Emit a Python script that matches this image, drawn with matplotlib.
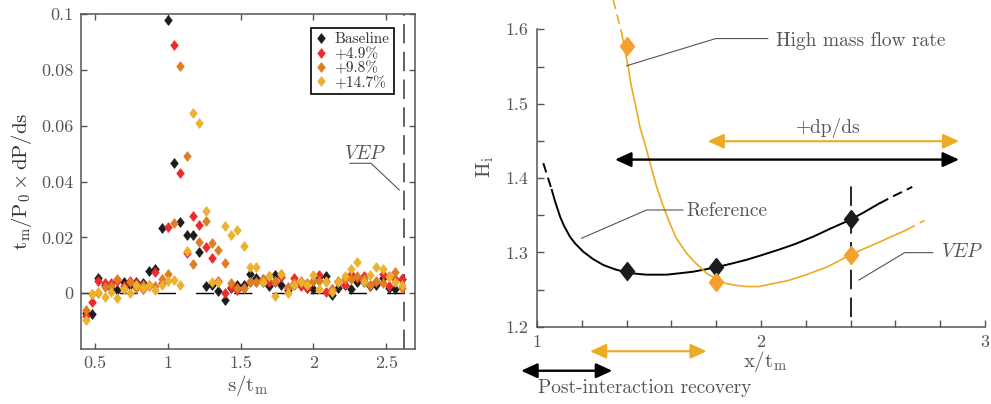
import numpy as np
import matplotlib
matplotlib.use("Agg")
import matplotlib.pyplot as plt
from matplotlib.patches import FancyArrowPatch
from matplotlib.ticker import FixedLocator, FuncFormatter, MultipleLocator

plt.rcParams['font.family'] = 'serif'
plt.rcParams['font.serif'] = ['cmr10']
plt.rcParams['mathtext.fontset'] = 'cm'
plt.rcParams['axes.formatter.use_mathtext'] = True
plt.rcParams['lines.scale_dashes'] = False

GREY = '#555555'
C_BASE = '#1c1c1c'
C_49 = '#ee2b2b'
C_98 = '#dc7f22'
C_147 = '#edb130'
C_ORANGE = '#f5a02c'
C_CURVE = '#edaa24'

# ---- left panel: pressure gradient along s ----
s_pos = [0.435, 0.478, 0.522, 0.565, 0.609, 0.652, 0.695, 0.739, 0.782, 0.826,
         0.869, 0.912, 0.956, 0.999, 1.043, 1.086, 1.129, 1.173, 1.216, 1.260,
         1.303, 1.346, 1.390, 1.433, 1.477, 1.520, 1.563, 1.607, 1.650, 1.694,
         1.737, 1.780, 1.824, 1.867, 1.911, 1.954, 1.997, 2.041, 2.084, 2.128,
         2.171, 2.214, 2.258, 2.301, 2.345, 2.388, 2.431, 2.475, 2.518, 2.562,
         2.605]

dpds_base = [-0.0070, -0.0073, 0.0055, 0.0030, 0.0020, 0.0010, 0.0040, 0.0030, 0.0040, 0.0035,
             0.0078, 0.0088, 0.0232, 0.0980, 0.0465, 0.0256, 0.0210, 0.0210, 0.0148, 0.0027,
             0.0028, 0.0007, -0.0023, 0.0020, 0.0030, 0.0028, 0.0068, 0.0053, 0.0040, 0.0025,
             0.0065, 0.0030, 0.0010, 0.0030, 0.0028, 0.0020, 0.0015, 0.0058, 0.0060, -0.0008,
             0.0020, 0.0030, 0.0015, 0.0040, 0.0040, 0.0025, 0.0030, 0.0055, 0.0020, 0.0015,
             0.0050]
dpds_49 = [-0.0080, -0.0030, 0.0043, 0.0035, 0.0035, 0.0045, 0.0025, 0.0045, 0.0035, 0.0015,
           0.0030, 0.0075, 0.0038, 0.0237, 0.0890, 0.0430, 0.0145, 0.0277, 0.0245, 0.0165,
           0.0125, 0.0045, 0.0000, 0.0022, 0.0010, 0.0020, 0.0040, 0.0040, 0.0050, 0.0040,
           0.0040, 0.0058, 0.0020, 0.0055, 0.0025, 0.0020, 0.0045, 0.0065, 0.0005, 0.0015,
           0.0040, 0.0030, 0.0070, 0.0055, 0.0060, 0.0030, 0.0040, 0.0070, 0.0025, 0.0050,
           0.0050]
dpds_98 = [-0.0060, -0.0003, 0.0000, 0.0023, 0.0025, 0.0050, 0.0020, 0.0040, 0.0020, 0.0030,
           0.0025, 0.0025, 0.0050, 0.0068, 0.0250, 0.0815, 0.0490, 0.0105, 0.0185, 0.0260,
           0.0178, 0.0155, 0.0108, 0.0035, 0.0020, 0.0020, 0.0040, 0.0040, 0.0050, 0.0060,
           0.0045, 0.0068, 0.0022, 0.0035, 0.0045, 0.0035, 0.0045, 0.0045, 0.0045, 0.0015,
           0.0045, 0.0050, 0.0050, 0.0060, 0.0050, 0.0030, 0.0045, 0.0035, 0.0060, 0.0075,
           0.0020]
dpds_147 = [-0.0097, -0.0003, 0.0005, -0.0013, 0.0005, -0.0018, 0.0015, 0.0000, 0.0030, 0.0020,
            0.0030, 0.0010, 0.0030, 0.0045, 0.0048, 0.0030, 0.0150, 0.0645, 0.0610, 0.0295,
            0.0040, 0.0040, 0.0240, 0.0208, 0.0228, 0.0170, 0.0095, 0.0095, 0.0040, 0.0060,
            -0.0010, 0.0070, 0.0000, 0.0030, 0.0040, 0.0030, 0.0065, 0.0015, 0.0040, 0.0005,
            0.0040, 0.0060, 0.0085, 0.0110, 0.0040, 0.0065, 0.0095, 0.0088, 0.0058, 0.0040,
            0.0030]
series_labels = ['Baseline', '+4.9%', '+9.8%', '+14.7%']
s_vep = 2.62

# ---- right panel: shape factor along x ----
x_meas = [1.4, 1.8, 2.4]
hi_ref = [1.275, 1.280, 1.345]
hi_high = [1.578, 1.260, 1.297]

x_fit_ref = [1.066, 1.080, 1.103, 1.120, 1.147, 1.170, 1.206, 1.250, 1.296, 1.350,
             1.400, 1.450, 1.489, 1.530, 1.578, 1.640, 1.697, 1.750, 1.800, 1.870,
             1.935, 2.000, 2.083, 2.150, 2.232, 2.310, 2.400, 2.460, 2.529]
hi_fit_ref = [1.384, 1.369, 1.348, 1.336, 1.321, 1.312, 1.301, 1.291, 1.283, 1.277,
              1.273, 1.271, 1.270, 1.270, 1.270, 1.272, 1.274, 1.277, 1.280, 1.285,
              1.290, 1.296, 1.304, 1.311, 1.321, 1.332, 1.344, 1.354, 1.366]
x_ext_ref = [[1.028, 1.066], [2.529, 2.600, 2.675]]
hi_ext_ref = [[1.420, 1.384], [1.366, 1.377, 1.388]]

x_fit_high = [1.378, 1.392, 1.407, 1.420, 1.444, 1.460, 1.489, 1.510, 1.534, 1.560,
              1.593, 1.620, 1.667, 1.700, 1.757, 1.800, 1.846, 1.880, 1.935, 1.990,
              2.054, 2.120, 2.202, 2.300, 2.400, 2.529, 2.648]
hi_fit_high = [1.595, 1.572, 1.550, 1.525, 1.492, 1.468, 1.438, 1.414, 1.388, 1.365,
               1.339, 1.320, 1.299, 1.288, 1.272, 1.264, 1.258, 1.256, 1.254, 1.254,
               1.258, 1.262, 1.270, 1.281, 1.297, 1.314, 1.330]
x_ext_high = [[1.340, 1.378], [2.648, 2.730]]
hi_ext_high = [[1.640, 1.595], [1.330, 1.343]]

fig = plt.figure(figsize=(9.91, 4.04), dpi=100)

# left axes
ax1 = fig.add_axes([0.0814, 0.1361, 0.3377, 0.8292])
ax1.plot([0.4, 2.7], [0, 0], color='k', lw=1.0, dashes=(13, 14.5), zorder=1)
ax1.axvline(s_vep, color=GREY, lw=1.3, dashes=(14, 6), zorder=1)

dia = [(0, 1), (0.78, 0), (0, -1), (-0.78, 0), (0, 1)]
for vals, col, lab in zip([dpds_base, dpds_49, dpds_98, dpds_147],
                          [C_BASE, C_49, C_98, C_147], series_labels):
    ax1.plot(s_pos, vals, ls='none', marker=dia, ms=7, color=col,
             mec=col, mew=0.5, label=lab, zorder=3)

ax1.set_xlim(0.4, 2.7)
ax1.set_ylim(-0.02, 0.1)
ax1.xaxis.set_major_locator(FixedLocator([0.5, 1, 1.5, 2, 2.5]))
ax1.yaxis.set_major_locator(FixedLocator([0, 0.02, 0.04, 0.06, 0.08, 0.1]))
fmt = FuncFormatter(lambda v, p: '%g' % round(v, 3))
ax1.xaxis.set_major_formatter(fmt)
ax1.yaxis.set_major_formatter(fmt)
ax1.tick_params(direction='in', length=4, width=1, colors=GREY,
                labelsize=13, top=True, right=True, pad=5)
for sp in ax1.spines.values():
    sp.set_color(GREY)
    sp.set_linewidth(1.1)

leg = ax1.legend(loc='upper right', bbox_to_anchor=(0.936, 0.958),
                 borderaxespad=0, fontsize=11, handlelength=0.8,
                 handletextpad=0.45, labelspacing=0.05, borderpad=0.3,
                 fancybox=False, framealpha=1, edgecolor='k')
leg.get_frame().set_linewidth(1.2)
for t in leg.get_texts():
    t.set_color('#333333')

fig.text(0.2503, 0.045, r'$\mathrm{s/t_m}$', ha='center', va='center',
         fontsize=15, color=GREY)
fig.text(0.022, 0.552, r'$\mathrm{t_m/P_0 \times dP/ds}$', ha='center',
         va='center', rotation=90, fontsize=15, color='#333333')

# VEP label with leader on the left panel
fig.text(0.3683, 0.62, r'$VEP$', ha='center', va='center', fontsize=14,
         color=GREY)
fig.add_artist(plt.Line2D([350 / 991, 371 / 991, 399.3 / 991],
                          [1 - 163.3 / 404, 1 - 163.3 / 404, 1 - 190 / 404],
                          color=GREY, lw=0.8))

# right axes
ax2 = fig.add_axes([0.5419, 0.1913, 0.4521, 0.7361])
ax2.plot(x_fit_ref, hi_fit_ref, color='k', lw=1.4, zorder=2)
for xs, ys in zip(x_ext_ref, hi_ext_ref):
    ax2.plot(xs, ys, color='k', lw=1.4, dashes=(7, 4), zorder=2)
ax2.plot(x_fit_high, hi_fit_high, color=C_CURVE, lw=1.2, zorder=2,
         clip_on=False)
for xs, ys in zip(x_ext_high, hi_ext_high):
    ax2.plot(xs, ys, color=C_CURVE, lw=1.2, dashes=(7, 4), zorder=2,
             clip_on=False)

ax2.plot([2.4, 2.4], [1.2135, 1.396], color='k', lw=1.2, dashes=(14, 6),
         zorder=1)
ax2.plot(x_meas, hi_ref, ls='none', marker=dia, ms=13, color=C_BASE, zorder=4)
ax2.plot(x_meas, hi_high, ls='none', marker=dia, ms=13, color=C_ORANGE,
         zorder=4, clip_on=False)

ax2.set_xlim(1, 3)
ax2.set_ylim(1.2, 1.6)
ax2.xaxis.set_major_locator(FixedLocator([1, 2, 3]))
ax2.xaxis.set_minor_locator(MultipleLocator(0.2))
ax2.yaxis.set_major_locator(MultipleLocator(0.1))
ax2.yaxis.set_minor_locator(MultipleLocator(0.05))
ax2.xaxis.set_major_formatter(fmt)
ax2.yaxis.set_major_formatter(fmt)
ax2.tick_params(which='both', direction='in', length=5, width=1,
                colors=GREY, labelsize=13, pad=6)
ax2.spines['top'].set_visible(False)
ax2.spines['right'].set_visible(False)
for sp in ['left', 'bottom']:
    ax2.spines[sp].set_color(GREY)
    ax2.spines[sp].set_linewidth(1.1)


def double_arrow(ax, x0, x1, y, col, lw):
    ar = FancyArrowPatch((x0, y), (x1, y),
                         arrowstyle='<|-|>,head_length=0.7,head_width=0.32',
                         mutation_scale=14, color=col, lw=lw,
                         shrinkA=0, shrinkB=0, clip_on=False, zorder=5)
    ax.add_patch(ar)


double_arrow(ax2, 1.762, 2.884, 1.4495, C_CURVE, 1.5)
double_arrow(ax2, 1.348, 2.884, 1.4248, 'k', 1.7)
double_arrow(ax2, 1.237, 1.757, 1.167, C_CURVE, 1.5)
double_arrow(ax2, 0.929, 1.336, 1.1408, 'k', 1.7)

ax2.text(2.302, 1.4678, '+dp/ds', ha='center', va='center', fontsize=14,
         color=GREY)
ax2.text(1.4815, 1.1175, 'Post-interaction recovery', ha='center',
         va='center', fontsize=14, color=GREY, clip_on=False)

# leaders on the right panel
ax2.plot([1.4, 1.798, 2.03], [1.551, 1.5876, 1.5876], color=GREY, lw=0.8,
         zorder=3)
ax2.text(2.069, 1.5845, 'High mass flow rate', ha='left', va='center',
         fontsize=14, color=GREY)
ax2.plot([1.199, 1.489, 1.651], [1.319, 1.357, 1.357], color=GREY, lw=0.8,
         zorder=3)
ax2.text(1.667, 1.356, 'Reference', ha='left', va='center', fontsize=14,
         color=GREY)
ax2.plot([2.437, 2.641, 2.767], [1.2628, 1.2996, 1.2996], color=GREY,
         lw=0.8, zorder=3)
ax2.text(2.804, 1.301, r'$VEP$', ha='left', va='center', fontsize=14,
         color=GREY, clip_on=False)

fig.text(0.772, 0.1047, r'$\mathrm{x/t_m}$', ha='center', va='center',
         fontsize=15, color=GREY)
fig.text(0.4894, 0.5874, r'$\mathrm{H_i}$', ha='center', va='center',
         rotation=90, fontsize=15, color=GREY)

fig.savefig('out.png', dpi=100)
